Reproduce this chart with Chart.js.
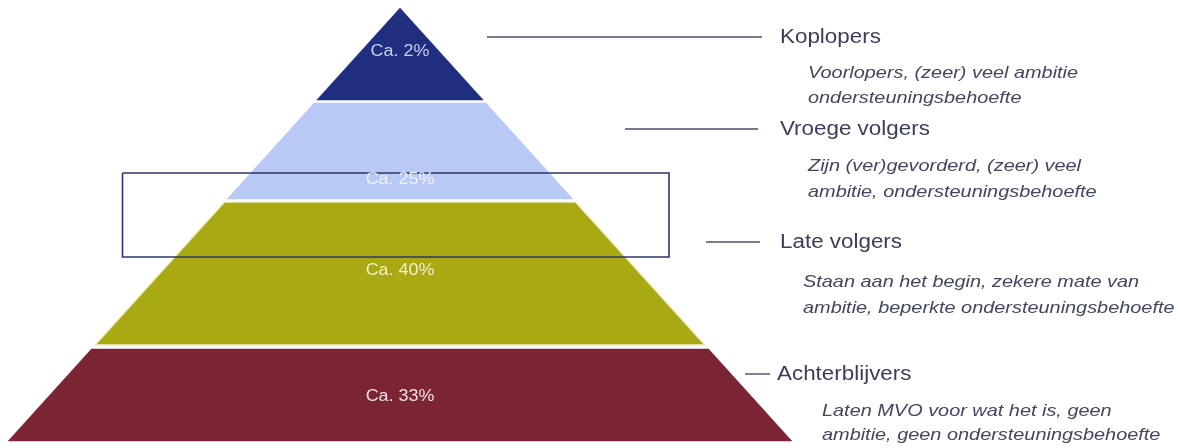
<!DOCTYPE html>
<html>
<head>
<meta charset="utf-8">
<script src="https://cdn.jsdelivr.net/npm/chart.js@4/dist/chart.umd.min.js"></script>
<style>
  html, body { margin: 0; padding: 0; background: #fff; }
  canvas { display: block; }
</style>
</head>
<body>
<canvas id="pyramid" width="1178" height="448"></canvas>
<script>
// tiers from top to bottom
const tiers = ['Koplopers', 'Vroege volgers', 'Late volgers', 'Achterblijvers'];
const shares = [2, 25, 40, 33];
const shareLabels = shares.map(s => 'Ca. ' + s + '%');
const descriptions = [
  ['Voorlopers, (zeer) veel ambitie', 'ondersteuningsbehoefte'],
  ['Zijn (ver)gevorderd, (zeer) veel', 'ambitie, ondersteuningsbehoefte'],
  ['Staan aan het begin, zekere mate van', 'ambitie, beperkte ondersteuningsbehoefte'],
  ['Laten MVO voor wat het is, geen', 'ambitie, geen ondersteuningsbehoefte']
];

// layout (canvas-like units on both scales)
const apex = { x: 400, y: 8 };
const slope = 0.905;
const bandTop = [8, 103, 202, 349];
const bandBottom = [100, 199, 345, 441];
const bandColors = ['#1f2e7e', '#b9c9f6', '#a9a914', '#7a2434'];
const bandBorders = ['#1f2e7e', '#b9c9f6', '#f1eec2', '#7a2434'];
const shareColors = ['#c6cff0', '#eef2fd', '#f3efc9', '#f4e0e3'];
const shareY = [52, 180, 271, 397];
const titleX = [780, 780, 780, 777];
const titleY = [37, 129, 242, 374];
const leaderFrom = [487, 625, 706, 745];
const leaderTo = [762, 758, 760, 770];
const descX = [808, 808, 803, 822];
const descY = [[73, 98], [166, 192], [282, 308], [411, 435]];
const box = { left: 122.5, right: 669, top: 173, bottom: 257 };

function halfWidth(yv) { return (yv - apex.y) * slope; }

function band(i) {
  const t = bandTop[i], b = bandBottom[i];
  return [
    { x: apex.x - halfWidth(t), y: t },
    { x: apex.x + halfWidth(t), y: t },
    { x: apex.x + halfWidth(b), y: b },
    { x: apex.x - halfWidth(b), y: b },
    { x: apex.x - halfWidth(t), y: t }
  ];
}

const datasets = [];

datasets.push({
  label: 'kader',
  data: [
    { x: box.left, y: box.top }, { x: box.right, y: box.top },
    { x: box.right, y: box.bottom }, { x: box.left, y: box.bottom },
    { x: box.left, y: box.top }
  ],
  borderColor: '#2c3670',
  borderWidth: 1.6,
  fill: false
});

tiers.forEach((t, i) => {
  datasets.push({
    label: 'lijn ' + t,
    data: [{ x: leaderFrom[i], y: titleY[i] }, { x: leaderTo[i], y: titleY[i] }],
    borderColor: '#4a4f6e',
    borderWidth: 1.4,
    fill: false
  });
});

tiers.forEach((t, i) => {
  datasets.push({
    label: t,
    data: band(i),
    backgroundColor: bandColors[i],
    borderColor: bandBorders[i],
    borderWidth: i === 2 ? 1.5 : 0.5,
    fill: 'shape'
  });
});

function stretchedText(ctx, text, px, py, sx) {
  ctx.save();
  ctx.translate(px, py);
  ctx.scale(sx, 1);
  ctx.fillText(text, 0, 0);
  ctx.restore();
}

const labelsPlugin = {
  id: 'pyramidLabels',
  afterDatasetsDraw(chart) {
    const ctx = chart.ctx;
    const xs = chart.scales.x, ys = chart.scales.y;
    ctx.save();
    ctx.textBaseline = 'middle';

    // percentages inside the bands
    ctx.textAlign = 'center';
    ctx.font = '16px "Liberation Sans", Arial, sans-serif';
    shareLabels.forEach((s, i) => {
      ctx.fillStyle = shareColors[i];
      stretchedText(ctx, s, xs.getPixelForValue(apex.x), ys.getPixelForValue(shareY[i]), 1.12);
    });

    // titles and descriptions on the right
    ctx.textAlign = 'left';
    tiers.forEach((t, i) => {
      ctx.font = '20px "Liberation Sans", Arial, sans-serif';
      ctx.fillStyle = '#3a3e58';
      stretchedText(ctx, t, xs.getPixelForValue(titleX[i]), ys.getPixelForValue(titleY[i]), 1.12);
      ctx.font = 'italic 17px "Liberation Sans", Arial, sans-serif';
      ctx.fillStyle = '#42465f';
      descriptions[i].forEach((line, k) => {
        stretchedText(ctx, line, xs.getPixelForValue(descX[i]), ys.getPixelForValue(descY[i][k]), 1.17);
      });
    });
    ctx.restore();
  }
};

new Chart(document.getElementById('pyramid'), {
  type: 'scatter',
  data: { datasets: datasets },
  options: {
    responsive: false,
    animation: false,
    showLine: true,
    elements: {
      point: { radius: 0, hoverRadius: 0 },
      line: { tension: 0 }
    },
    layout: { padding: 0 },
    scales: {
      x: { type: 'linear', min: 0, max: 1178, display: false },
      y: { type: 'linear', min: 0, max: 448, reverse: true, display: false }
    },
    plugins: {
      legend: { display: false },
      tooltip: { enabled: false }
    }
  },
  plugins: [labelsPlugin]
});
</script>
</body>
</html>
